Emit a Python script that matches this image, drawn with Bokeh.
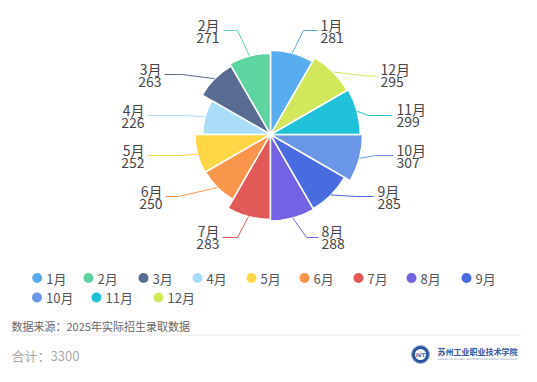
import math
from bokeh.plotting import figure
from bokeh.models import Range1d
from bokeh.embed import file_html
from bokeh.resources import INLINE
from bokeh.core.properties import value

# ---------------- data ----------------
months = ["1月", "2月", "3月", "4月", "5月", "6月", "7月", "8月", "9月", "10月", "11月", "12月"]
counts = [281, 271, 263, 226, 252, 250, 283, 288, 285, 307, 299, 295]
colors = ["#58acf0", "#5ed4a0", "#586c91", "#aadef8", "#ffd646", "#fa964b",
          "#e15a58", "#7362e4", "#486ce0", "#6996e6", "#20c2da", "#d2e85a"]
source_note = "数据来源：2025年实际招生录取数据"
total_label = "合计：" + str(sum(counts))

# ---------------- layout (picture pixel coords) ----------------
CW, CH = 521, 366
FONT = "Noto Sans CJK SC"
CX, CY = 270, 134          # pie centre
R_SCALE = 0.30             # px per unit (rose radius)
# label layout: (side, elbow_x, elbow_y, end_x, end_y, text_x, text_y)
label_layout = [
    ("R", 303, 30, 317, 30, 320, 24),
    ("L", 237, 30, 223, 30, 219, 24),
    ("L", 182, 74, 164, 74, 161, 68),
    ("L", 185, 115, 147, 115, 144, 109),
    ("L", 180, 155, 147, 155, 144, 149),
    ("L", 178, 196, 165, 196, 162, 190),
    ("L", 237, 237, 222, 237, 219, 230),
    ("R", 306, 237, 318, 237, 321, 230),
    ("R", 355, 196, 373, 196, 377, 190),
    ("R", 375, 155, 393, 155, 396, 149),
    ("R", 368, 115, 392, 115, 396, 108),
    ("R", 366, 75.5, 377, 75.5, 380, 68),
]
legend_x = [36.7, 88, 143, 197, 251, 304, 358, 411, 466, 36.5, 96, 158]
legend_y = [277.5] * 9 + [297] * 3


def sy(y):
    return CH - y  # picture y -> data y (data y goes up)


p = figure(width=CW, height=CH, output_backend="svg", toolbar_location=None,
           x_range=Range1d(0, CW), y_range=Range1d(0, CH), min_border=0)
p.axis.visible = False
p.grid.visible = False
p.outline_line_color = None
p.background_fill_color = "white"
p.border_fill_color = "white"

# ---------------- rose pie ----------------
n = len(months)
step = 360.0 / n
starts = [math.radians(60 + step * i) for i in range(n)]
ends = [math.radians(60 + step * (i + 1)) for i in range(n)]
radii = [c * R_SCALE for c in counts]
p.wedge(x=CX, y=sy(CY), radius=radii, start_angle=starts, end_angle=ends,
        fill_color=colors, line_color="white", line_width=1.5)

# ---------------- labels + leader lines ----------------
for i in range(n):
    side, ex, ey, tx_end, ty_end, tx, ty = label_layout[i]
    mid = (starts[i] + ends[i]) / 2
    x0 = CX + radii[i] * math.cos(mid)
    y0 = sy(CY) + radii[i] * math.sin(mid)
    p.line([x0, ex, tx_end], [y0, sy(ey), sy(ty_end)], line_color=colors[i], line_width=1)
    align = "left" if side == "R" else "right"
    p.text(x=[tx, tx], y=[sy(ty), sy(ty + 13)], text=[months[i], str(counts[i])],
           text_align=align, text_baseline="middle", text_font=value(FONT),
           text_font_size="14px", text_color="#454545")

# ---------------- legend ----------------
p.scatter(x=legend_x, y=[sy(v) for v in legend_y], size=10, marker="circle",
          fill_color=colors, line_color=None)
p.text(x=[v + 9 for v in legend_x], y=[sy(v) for v in legend_y], text=months,
       text_align="left", text_baseline="middle", text_font=value(FONT),
       text_font_size="13px", text_color="#555555")

# ---------------- footer ----------------
p.text(x=[11], y=[sy(325)], text=[source_note], text_align="left", text_baseline="middle",
       text_font=value(FONT), text_font_size="11px", text_color="#666666")
p.line([10, CW], [sy(334.5), sy(334.5)], line_color="#ebebeb", line_width=1)
p.text(x=[11], y=[sy(355)], text=[total_label], text_align="left", text_baseline="middle",
       text_font=value(FONT), text_font_size="13px", text_color="#aaaaaa")

# logo
p.scatter(x=[420], y=[sy(354)], size=18, marker="circle", fill_color="#2d55a0",
          line_color="#9fb3d6", line_width=1)
p.scatter(x=[420], y=[sy(354)], size=11, marker="circle", fill_color="white",
          line_color=None)
p.text(x=[420], y=[sy(354)], text=["IVT"], text_align="center", text_baseline="middle",
       text_font=value("DejaVu Sans"), text_font_size="5px", text_font_style="bold",
       text_color="#2d55a0")
logo_chars = list("苏州工业职业技术学院")
p.text(x=[437 + 8 * k + 4 for k in range(len(logo_chars))], y=[sy(351)] * len(logo_chars),
       text=logo_chars, text_align="center", text_baseline="middle",
       text_font=value(FONT), text_font_size="8px", text_font_style="bold",
       text_color="#2d55a0")
p.text(x=[437], y=[sy(359)], text=["SUZHOU VOCATIONAL INSTITUTE OF INDUSTRIAL TECHNOLOGY"],
       text_align="left", text_baseline="middle", text_font=value("DejaVu Sans"),
       text_font_size="2.5px", text_color="#6a7fa8")

open("out.html", "w").write(file_html(p, INLINE))
